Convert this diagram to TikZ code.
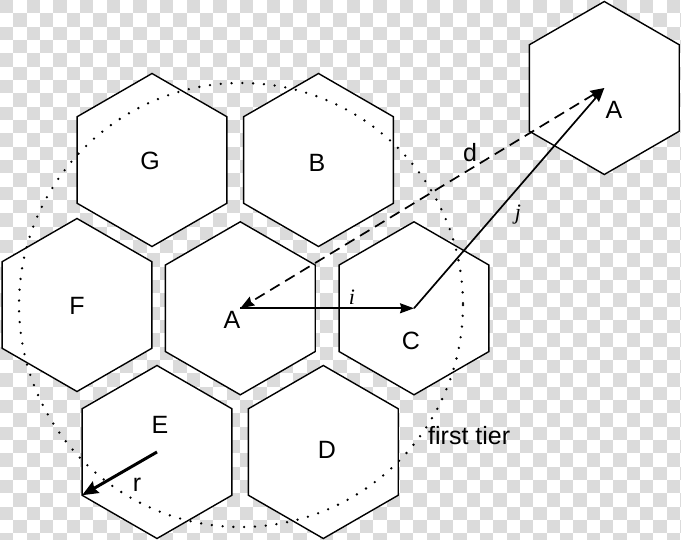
\documentclass[tikz,border=0pt]{standalone}
\usepackage{fontspec}
\setmainfont{Liberation Sans}
\newfontfamily\serifit{Liberation Serif}
\usetikzlibrary{arrows.meta,calc}
\begin{document}
\begin{tikzpicture}[x=1pt,y=-1pt,
  chk/.style={fill=black!14},
  hexline/.style={draw=black,fill=white,line width=1.4pt,line join=miter},
  tier/.style={draw=black,line width=2.6pt,line cap=round,dash pattern=on 0pt off 10.8pt},
  arr/.style={draw=black,line width=1.7pt,-{Stealth[length=14pt,width=10pt,inset=1.5pt]}},
  darr/.style={draw=black,line width=1.7pt,dash pattern=on 11pt off 6.5pt,{Stealth[length=14pt,width=10pt,inset=1.5pt]}-{Stealth[length=14pt,width=10pt,inset=1.5pt]}},
  rarr/.style={draw=black,line width=3pt,-{Stealth[length=16pt,width=13pt,inset=2pt]}},
  lab/.style={font=\fontsize{25}{29}\selectfont,inner sep=0pt},
  ilab/.style={font=\fontsize{22}{26}\selectfont\serifit\itshape,inner sep=0pt}
]
\useasboundingbox (0,0) rectangle (681,540);
\fill[white] (0,0) rectangle (681,540);
\begin{scope}
\clip (0,0) rectangle (681,540);
\foreach \i in {0,2,...,50}{
  \foreach \j in {0,2,...,40}{
    \fill[chk] ({\i*13.333},{\j*13.333}) rectangle ++(13.333,13.333);
    \fill[chk] ({(\i+1)*13.333},{(\j+1)*13.333}) rectangle ++(13.333,13.333);
  }
}
\end{scope}
% hexagon centres
\coordinate (G) at (152,160);
\coordinate (B) at (318.5,160);
\coordinate (F) at (77,305);
\coordinate (A) at (240.3,308.3);
\coordinate (C) at (414,308.3);
\coordinate (E) at (157,452);
\coordinate (D) at (323.3,452);
\coordinate (A2) at (604.3,88);
\foreach \n in {G,B,F,A,C,E,D,A2}{
  \draw[hexline] ($(\n)+(90:86.5)$) -- ($(\n)+(30:86.5)$) -- ($(\n)+(-30:86.5)$) -- ($(\n)+(-90:86.5)$) -- ($(\n)+(-150:86.5)$) -- ($(\n)+(150:86.5)$) -- cycle;
}
% first tier circle
\coordinate (O) at (241,305);
\draw[tier] (O) circle[radius=222];
% arrows
\coordinate (Ev) at ($(E)+(150:86.5)$);
\draw[arr] (A) -- (C);
\draw[arr] (C) -- (A2);
\draw[darr] (A2) -- (A);
\draw[rarr] (E) -- (Ev);
% labels
\node[lab] (lG) at (150,161) {G};
\node[lab] (lB) at (317,163) {B};
\node[lab] (lF) at (77,306) {F};
\node[lab] (lA) at (232,320) {A};
\node[lab] (lC) at (411,341) {C};
\node[lab] (lE) at (160,425) {E};
\node[lab] (lD) at (327,450) {D};
\node[lab] (lA2) at (614,110) {A};
\node[lab] (ld) at (470,153) {d};
\node[lab] (lr) at (137,485) {r};
\node[ilab] (li) at (352,297) {i};
\node[ilab] (lj) at (518,215) {j};
\node[lab,anchor=west] (lt) at (428,436) {first tier};
\end{tikzpicture}
\end{document}
